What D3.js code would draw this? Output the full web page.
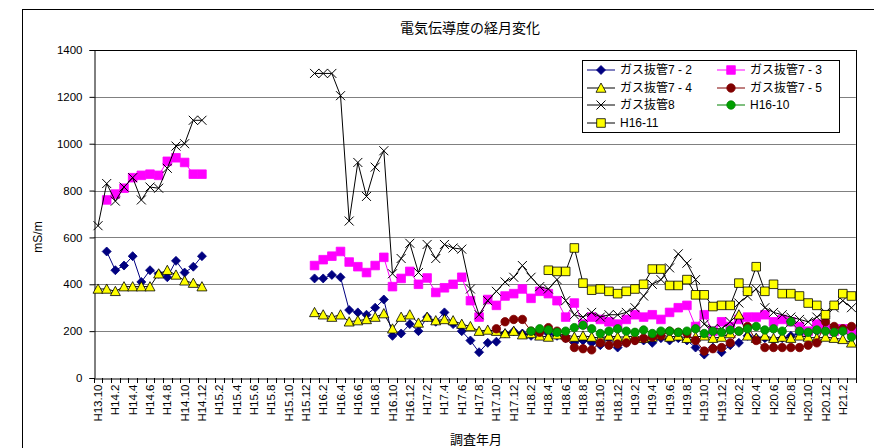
<!DOCTYPE html>
<html><head><meta charset="utf-8">
<script src="https://cdn.jsdelivr.net/npm/d3@7"></script>
<style>
body{margin:0;background:#fff}
svg{display:block}
text{font-family:"Liberation Sans",Arial,"Noto Sans CJK JP",sans-serif;fill:#000}
</style>
</head><body>
<svg id="c" width="874" height="448"></svg>
<script>
const categories = ["H13.10","H14.1",
"H14.2","H14.3","H14.4","H14.5","H14.6","H14.7","H14.8","H14.9","H14.10","H14.11","H14.12","H15.1",
"H15.2","H15.3","H15.4","H15.5","H15.6","H15.7","H15.8","H15.9","H15.10","H15.11","H15.12","H16.1",
"H16.2","H16.3","H16.4","H16.5","H16.6","H16.7","H16.8","H16.9","H16.10","H16.11","H16.12","H17.1",
"H17.2","H17.3","H17.4","H17.5","H17.6","H17.7","H17.8","H17.9","H17.10","H17.11","H17.12","H18.1",
"H18.2","H18.3","H18.4","H18.5","H18.6","H18.7","H18.8","H18.9","H18.10","H18.11","H18.12","H19.1",
"H19.2","H19.3","H19.4","H19.5","H19.6","H19.7","H19.8","H19.9","H19.10","H19.11","H19.12","H20.1",
"H20.2","H20.3","H20.4","H20.5","H20.6","H20.7","H20.8","H20.9","H20.10","H20.11","H20.12","H21.1",
"H21.2","H21.3"];
const yTicks = [0,200,400,600,800,1000,1200,1400];
const _ = null;
const gas72 = [_,540,460,480,520,410,460,445,430,500,450,475,520, _,_,_,_,_,_,_,_,_,_,_,_,
 425,425,440,430,290,280,270,300,335,180,190,230,200,260,240,280,230,200,160,110,150,155,190,200,190,180,200,190,180,170,150,160,150,140,170,130,150,160,160,150,170,160,170,160,130,100,130,110,140,150,180,170,170,160,170,180,190,190,200,200,190,200,190];
const gas73 = [_,760,785,810,855,865,870,865,925,940,920,870,870, _,_,_,_,_,_,_,_,_,_,_,_,
 480,505,520,540,495,475,450,480,515,390,425,455,400,427,365,385,400,430,330,260,335,310,350,360,380,340,370,360,330,260,320,230,260,250,240,230,250,270,260,270,250,280,300,310,220,270,200,240,220,250,260,260,270,240,250,240,220,200,230,210,200,210,200];
const gas74 = [380,380,370,390,390,390,390,445,460,440,415,405,390, _,_,_,_,_,_,_,_,_,_,_,_,
 280,270,260,270,240,245,250,260,275,210,260,270,235,260,245,250,245,230,220,200,205,200,190,200,185,190,180,175,185,185,175,180,175,170,180,175,175,180,170,175,185,175,180,170,175,180,170,175,190,270,180,170,180,170,175,170,180,175,170,175,170,165,150];
const gas75 = [_,_,_,_,_,_,_,_,_,_,_,_,_, _,_,_,_,_,_,_,_,_,_,_,_,
 _,_,_,_,_,_,_,_,_,_,_,_,_,_,_,_,_,_,_,_,_,210,240,250,250,200,195,215,200,170,130,125,120,150,140,145,150,160,170,175,180,200,195,190,160,115,125,130,150,200,220,160,130,130,130,130,130,140,150,240,220,210,220];
const gas8 = [650,830,755,815,855,760,815,810,895,990,1000,1100,1100, _,_,_,_,_,_,_,_,_,_,_,_,
 1300,1300,1300,1205,670,920,775,900,970,445,510,575,450,570,510,570,555,550,380,270,330,370,410,430,480,430,390,380,420,330,270,260,280,260,270,270,280,300,350,400,420,470,530,490,420,230,210,210,240,320,350,380,300,280,270,260,250,240,260,280,300,330,300];
const h1610 = [_,_,_,_,_,_,_,_,_,_,_,_,_, _,_,_,_,_,_,_,_,_,_,_,_,
 _,_,_,_,_,_,_,_,_,_,_,_,_,_,_,_,_,_,_,_,_,_,_,_,_,200,210,205,195,200,215,225,210,190,200,210,200,195,205,190,200,200,195,200,210,190,200,195,205,200,210,220,205,210,200,240,200,195,205,200,195,200,175];
const h1611 = [_,_,_,_,_,_,_,_,_,_,_,_,_, _,_,_,_,_,_,_,_,_,_,_,_,
 _,_,_,_,_,_,_,_,_,_,_,_,_,_,_,_,_,_,_,_,_,_,_,_,_,_,_,460,455,455,555,405,375,380,370,360,370,380,400,465,465,395,395,420,355,355,305,310,310,405,370,475,370,400,360,360,350,320,310,270,310,360,350];
const seriesNames = ["ガス抜管7 - 2","ガス抜管7 - 3","ガス抜管7 - 4","ガス抜管7 - 5","ガス抜管8","H16-10","H16-11"];

const svg = d3.select("#c");
const L = 93.7, R = 855.8, T = 50, B = 378;
const x = d3.scaleBand().domain(categories).range([L, R]).padding(0);
const y = d3.scaleLinear().domain([0, 1400]).range([B, T]);

svg.append("rect").attr("x",22.5).attr("y",9.5).attr("width",900).attr("height",500)
  .attr("fill","#fff").attr("stroke","#000").attr("stroke-width",1);

svg.append("text").attr("x",470).attr("y",33).attr("text-anchor","middle")
  .style("font-family","'Noto Sans CJK JP',sans-serif").style("font-size","14px").text("電気伝導度の経月変化");

svg.append("g").selectAll("line").data(yTicks.filter(d=>d>0)).join("line")
  .attr("x1",L).attr("x2",R).attr("y1",d=>Math.round(y(d))+0.5).attr("y2",d=>Math.round(y(d))+0.5)
  .attr("stroke",d=>d===1400?"#000":"#808080").attr("stroke-width",1);
svg.append("line").attr("x1",Math.round(R)+0.5).attr("x2",Math.round(R)+0.5).attr("y1",T).attr("y2",B)
  .attr("stroke","#000");

const yAxis = svg.append("g").attr("transform",`translate(${Math.round(L)+0.5},0)`)
  .call(d3.axisLeft(y).tickValues(yTicks).tickFormat(d3.format("d")).tickSize(5).tickPadding(7));
yAxis.select(".domain").attr("stroke","#000");
yAxis.selectAll("text").style("font-size","11.5px").style("font-family","'Liberation Sans',Arial,sans-serif");

const xAxis = svg.append("g").attr("transform",`translate(0,${Math.round(B)+0.5})`)
  .call(d3.axisBottom(x).tickSize(0).tickFormat((d,i)=> i%2===0 ? d : ""));
xAxis.select(".domain").attr("stroke","#000");
xAxis.selectAll("text").attr("transform","rotate(-90)").attr("x",-6).attr("y",0).attr("dy","0.35em")
  .style("text-anchor","end").style("font-size","11.5px").style("font-family","'Liberation Sans',Arial,sans-serif");
const bounds = categories.map(c=>x(c)).concat([R]);
svg.append("g").selectAll("line").data(bounds).join("line")
  .attr("x1",d=>Math.round(d)+0.5).attr("x2",d=>Math.round(d)+0.5).attr("y1",B).attr("y2",B+5)
  .attr("stroke","#000");

svg.append("text").attr("transform","translate(42,237) rotate(-90)").attr("text-anchor","middle")
  .style("font-size","12px").text("mS/m");
svg.append("text").attr("x",476).attr("y",444).attr("text-anchor","middle")
  .style("font-family","'Noto Sans CJK JP',sans-serif").style("font-size","13px").text("調査年月");

const shapes = {
  diamond: r => `M0,${-r}L${r},0L0,${r}L${-r},0Z`,
  square: r => `M${-r},${-r}H${r}V${r}H${-r}Z`,
  triangle: r => `M0,${-r}L${r},${r*0.85}L${-r},${r*0.85}Z`,
  circle: r => d3.symbol(d3.symbolCircle, Math.PI*r*r)(),
  cross: r => `M${-r},${-r}L${r},${r}M${r},${-r}L${-r},${r}`
};
const series = [
  {name:seriesNames[0], values:gas72, line:"#000080", shape:"diamond", r:4.5, fill:"#000080", stroke:"#000080"},
  {name:seriesNames[1], values:gas73, line:"#FF00FF", shape:"square", r:4.3, fill:"#FF00FF", stroke:"#FF00FF"},
  {name:seriesNames[2], values:gas74, line:"#000000", shape:"triangle", r:5, fill:"#FFFF00", stroke:"#000000"},
  {name:seriesNames[3], values:gas75, line:"#800000", shape:"circle", r:4.2, fill:"#800000", stroke:"#800000"},
  {name:seriesNames[4], values:gas8, line:"#000000", shape:"cross", r:4.5, fill:"none", stroke:"#000000"},
  {name:seriesNames[5], values:h1610, line:"#008000", shape:"circle", r:4.2, fill:"#00A000", stroke:"#008000"},
  {name:seriesNames[6], values:h1611, line:"#000000", shape:"square", r:4.3, fill:"#FFFF00", stroke:"#000000"}
];
const cx = c => x(c) + x.bandwidth()/2;
const lineGen = d3.line().defined(d=>d.v!==null).x(d=>cx(d.c)).y(d=>y(d.v));
const plot = svg.append("g");
series.forEach(s=>{
  const pts = categories.map((c,i)=>({c, v: s.values[i] === undefined ? null : s.values[i]}));
  plot.append("path").datum(pts).attr("d",lineGen).attr("fill","none").attr("stroke",s.line).attr("stroke-width",1);
  plot.append("g").selectAll("path").data(pts.filter(d=>d.v!==null)).join("path")
    .attr("transform",d=>`translate(${cx(d.c)},${y(d.v)})`)
    .attr("d",shapes[s.shape](s.r)).attr("fill",s.fill).attr("stroke",s.stroke).attr("stroke-width",s.shape==="cross"?1:0.8);
});

const lg = svg.append("g");
lg.append("rect").attr("x",582.5).attr("y",60.5).attr("width",257).attr("height",72)
  .attr("fill","#fff").attr("stroke","#000");
const cols = [587, 717], rowY = [70, 88, 105, 123];
series.forEach((s,i)=>{
  const col = i%2, row = Math.floor(i/2);
  const x0 = cols[col], yy = rowY[row];
  lg.append("line").attr("x1",x0).attr("x2",x0+28).attr("y1",yy).attr("y2",yy).attr("stroke",s.line);
  lg.append("path").attr("transform",`translate(${x0+14},${yy})`).attr("d",shapes[s.shape](s.r))
    .attr("fill",s.fill).attr("stroke",s.stroke).attr("stroke-width",s.shape==="cross"?1:0.8);
  lg.append("text").attr("x",x0+33).attr("y",yy).attr("dy","0.36em")
    .style("font-size","12px").style("font-family","'Liberation Sans','Noto Sans CJK JP',sans-serif").text(s.name);
});
</script>
</body></html>
